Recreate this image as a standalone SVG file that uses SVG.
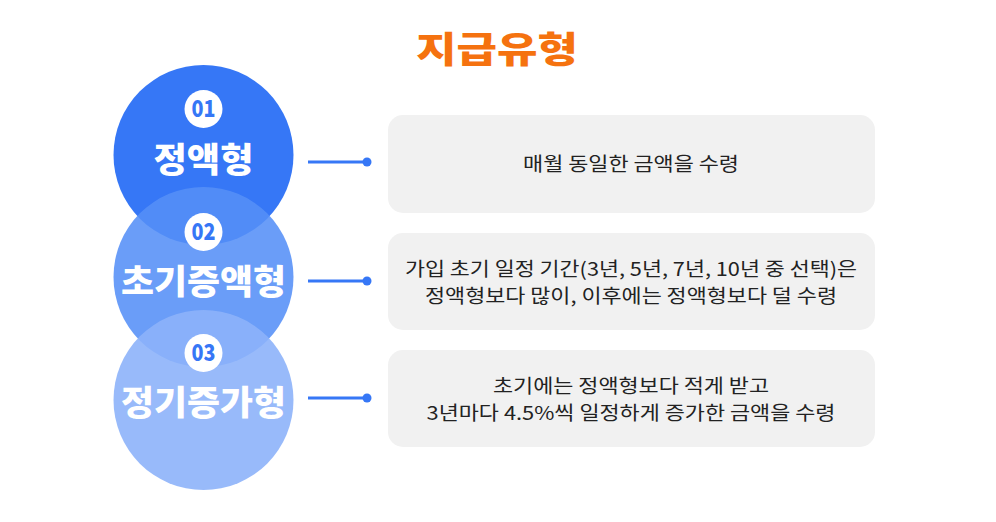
<svg xmlns="http://www.w3.org/2000/svg" width="996" height="522" viewBox="0 0 996 522">
<style>
.t{font-family:"Noto Sans CJK KR","Noto Sans",sans-serif}
.lab{font-size:34px;font-weight:900;fill:#fff;text-anchor:middle}
.num{font-size:23px;font-weight:900;fill:#3677f6;text-anchor:middle}
.box{fill:#f1f1f1}
.bt{font-size:19px;fill:#222;text-anchor:middle}
.ln{stroke:#3677f6;stroke-width:3}
</style>
<rect width="996" height="522" fill="#fff"/>
<text class="t" x="497" y="63" font-size="36" font-weight="900" fill="#f5720f" text-anchor="middle" textLength="162" lengthAdjust="spacingAndGlyphs">지급유형</text>
<g id="node1"><circle cx="203.5" cy="155" r="90" fill="#3677f6"/><circle cx="203.5" cy="109" r="19" fill="#fff"/><text class="t num" x="203.5" y="117" textLength="24" lengthAdjust="spacingAndGlyphs">01</text><text class="t lab" x="203.5" y="172" textLength="100" lengthAdjust="spacingAndGlyphs">정액형</text></g>
<g id="node2"><circle cx="203.5" cy="277" r="90" fill="#5590f7" opacity="0.88"/><circle cx="203.5" cy="232" r="19" fill="#fff"/><text class="t num" x="203.5" y="240" textLength="24" lengthAdjust="spacingAndGlyphs">02</text><text class="t lab" x="203.5" y="294" textLength="165" lengthAdjust="spacingAndGlyphs">초기증액형</text></g>
<g id="node3"><circle cx="203.5" cy="400" r="90" fill="#8db3fa" opacity="0.9"/><circle cx="203.5" cy="353" r="19" fill="#fff"/><text class="t num" x="203.5" y="361" textLength="24" lengthAdjust="spacingAndGlyphs">03</text><text class="t lab" x="203.5" y="415" textLength="165" lengthAdjust="spacingAndGlyphs">정기증가형</text></g>
<g id="connectors" fill="#3677f6">
<line class="ln" x1="308" y1="162" x2="367" y2="162"/><circle cx="367" cy="162" r="4.5"/>
<line class="ln" x1="308" y1="281" x2="367" y2="281"/><circle cx="367" cy="281" r="4.5"/>
<line class="ln" x1="308" y1="398" x2="367" y2="398"/><circle cx="367" cy="398" r="4.5"/>
</g>
<g id="box1"><rect class="box" x="388" y="115" width="487" height="98" rx="15"/><text class="t bt" x="631" y="171" textLength="216" lengthAdjust="spacingAndGlyphs">매월 동일한 금액을 수령</text></g>
<g id="box2"><rect class="box" x="388" y="233" width="487" height="97" rx="15"/><text class="t bt" x="631" y="276" textLength="452" lengthAdjust="spacingAndGlyphs">가입 초기 일정 기간(3년, 5년, 7년, 10년 중 선택)은</text><text class="t bt" x="631" y="303" textLength="412" lengthAdjust="spacingAndGlyphs">정액형보다 많이, 이후에는 정액형보다 덜 수령</text></g>
<g id="box3"><rect class="box" x="388" y="350" width="487" height="97" rx="15"/><text class="t bt" x="631" y="393" textLength="276" lengthAdjust="spacingAndGlyphs">초기에는 정액형보다 적게 받고</text><text class="t bt" x="631" y="420" textLength="409" lengthAdjust="spacingAndGlyphs">3년마다 4.5%씩 일정하게 증가한 금액을 수령</text></g>
</svg>
